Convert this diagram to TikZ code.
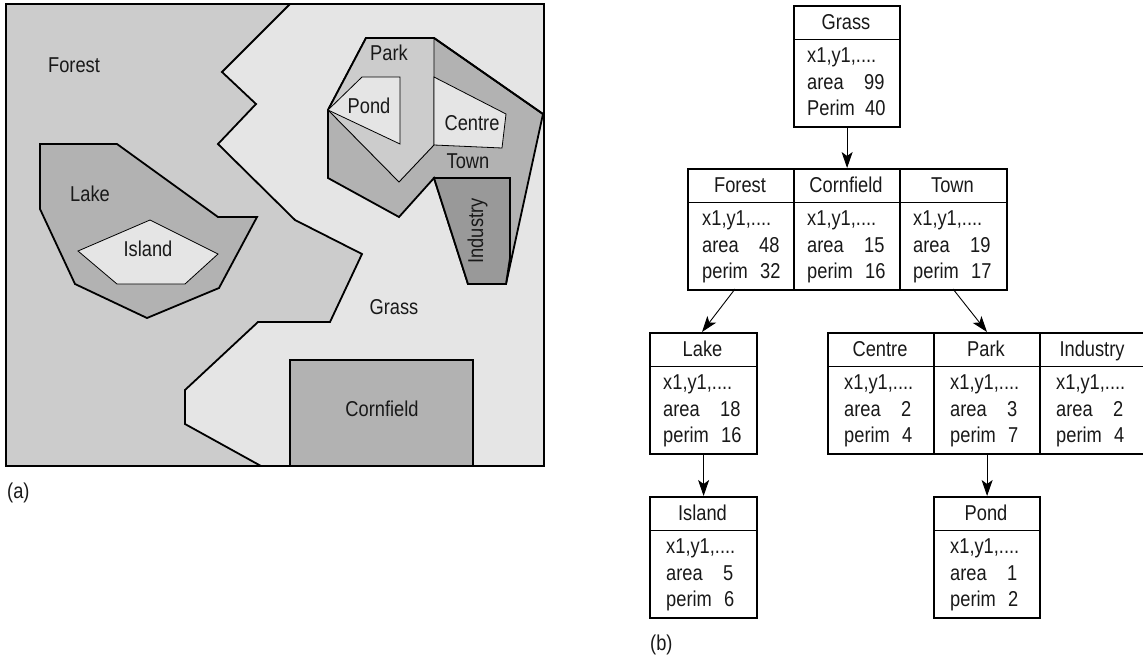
\documentclass[tikz,border=0pt]{standalone}
\usepackage{fontspec}
\setmainfont[FakeStretch=0.85]{Liberation Sans}
\usetikzlibrary{arrows.meta}
\tikzset{
  x=1pt,y=-1pt,
  edge/.style={draw=black,line width=1.8pt,line join=miter},
  lab/.style={inner sep=0pt,font=\fontsize{21.5}{21.5}\selectfont,text=black!90},
  recbox/.style={draw=black,line width=2.2pt,inner sep=0pt,minimum width=#1,minimum height=121pt,anchor=north west},
  link/.style={draw=black,line width=0.9pt,-{Stealth[length=16pt,width=11pt,inset=4pt]}}
}
\definecolor{gA}{gray}{0.90}
\definecolor{gB}{gray}{0.80}
\definecolor{gC}{gray}{0.70}
\definecolor{gD}{gray}{0.60}
% name, width, x, y, title, text offset, area, perim word, perim value
\newcommand{\recnode}[9]{%
  \node[recbox=#2pt] (#1) at (#3,#4) {};
  \draw[line width=0.8pt] (#3,#4+34) -- (#3+#2,#4+34);
  \node[lab,anchor=base] (#1t) at (#3+#2/2,#4+24.5) {#5};
  \node[lab,anchor=base west] (#1a) at (#3+#6,#4+57) {x1,y1,....};
  \node[lab,anchor=base west] (#1b) at (#3+#6,#4+84) {area};
  \node[lab,anchor=base west] (#1c) at (#3+#6+57,#4+84) {#7};
  \node[lab,anchor=base west] (#1d) at (#3+#6,#4+110) {#8};
  \node[lab,anchor=base west] (#1e) at (#3+#6+58,#4+110) {#9};
}
\begin{document}
\begin{tikzpicture}
\useasboundingbox (0,0) rectangle (1143,657);
\fill[white] (0,0) rectangle (1143,657);
% map
\fill[gA] (6,4) rectangle (544,466);
\fill[gB] (6,4) -- (290,4) -- (222,72) -- (256,104) -- (218,144) -- (295,220) -- (362,254) -- (330,322) -- (258,322) -- (185,390) -- (185,424) -- (261,466) -- (6,466) -- cycle;
\draw[edge] (290,4) -- (222,72) -- (256,104) -- (218,144) -- (295,220) -- (362,254) -- (330,322) -- (258,322) -- (185,390) -- (185,424) -- (261,466);
\draw[line width=1.1pt] (6,4) rectangle (544,466);
% lake
\filldraw[fill=gC,edge] (40,144) -- (117,144) -- (218,217) -- (257,217) -- (219,288) -- (147,318) -- (75,284) -- (40,209) -- cycle;
\filldraw[fill=gA,draw=black,line width=0.8pt] (78,251) -- (150,220) -- (218,254) -- (185,284) -- (117,284) -- cycle;
% cornfield
\filldraw[fill=gC,edge] (290,360) rectangle (473,466);
% town
\filldraw[fill=gC,edge] (366,38) -- (434,38) -- (543,114) -- (506,284) -- (468,284) -- (434,178) -- (399,217) -- (328,178) -- (328,110) -- cycle;
\filldraw[fill=gD,edge] (434,178) -- (510,178) -- (510,258) -- (506,284) -- (468,284) -- cycle;
% park
\filldraw[fill=gB,draw=none] (328,110) -- (366,38) -- (434,38) -- (434,145) -- (399,182) -- cycle;
\draw[edge] (328,110) -- (366,38) -- (434,38) -- (543,114);
\draw[line width=0.9pt] (434,38) -- (434,145) -- (399,182) -- (328,110);
\filldraw[fill=gA,draw=black,line width=0.8pt] (434,77) -- (506,114) -- (502,148) -- (434,145) -- cycle;
\filldraw[fill=gA,draw=black,line width=0.8pt] (328,110) -- (362,77) -- (400,77) -- (400,144) -- cycle;
% map labels
\node[lab] (lforest) at (74,65) {Forest};
\node[lab] (llake) at (90,194) {Lake};
\node[lab] (lisland) at (148,249) {Island};
\node[lab] (lgrass) at (394,307) {Grass};
\node[lab] (lcorn) at (382,409) {Cornfield};
\node[lab] (lpark) at (389,53) {Park};
\node[lab] (lpond) at (369,106) {Pond};
\node[lab] (lcentre) at (472,123) {Centre};
\node[lab] (ltown) at (468,161) {Town};
\node[lab,rotate=90] (lind) at (477.5,231) {Industry};
\node[lab,anchor=west] (la) at (7,493) {(a)};
% tree
\recnode{grass}{106}{793}{5}{Grass}{14}{99}{Perim}{40}
\recnode{forest}{106}{687}{168}{Forest}{15}{48}{perim}{32}
\recnode{cornf}{106}{793}{168}{Cornfield}{14}{15}{perim}{16}
\recnode{town}{107}{899}{168}{Town}{14}{19}{perim}{17}
\recnode{lake}{107}{649}{332}{Lake}{14}{18}{perim}{16}
\recnode{centre}{106}{827}{332}{Centre}{17}{2}{perim}{4}
\recnode{parkb}{106}{933}{332}{Park}{17}{3}{perim}{7}
\recnode{indb}{106}{1039}{332}{Industry}{17}{2}{perim}{4}
\recnode{island}{107}{649}{496}{Island}{17}{5}{perim}{6}
\recnode{pond}{106}{933}{496}{Pond}{17}{1}{perim}{2}
\node[lab,anchor=west] (lb) at (650,645) {(b)};
\coordinate (f1) at (735,289);
\coordinate (l1) at (702,332);
\coordinate (t1) at (953,289);
\coordinate (p1) at (987,332);
\draw[link] (grass.south) -- (cornf.north);
\draw[link] (f1) -- (l1);
\draw[link] (t1) -- (p1);
\draw[link] (lake.south) -- (island.north);
\draw[link] (parkb.south) -- (pond.north);
\end{tikzpicture}
\end{document}
